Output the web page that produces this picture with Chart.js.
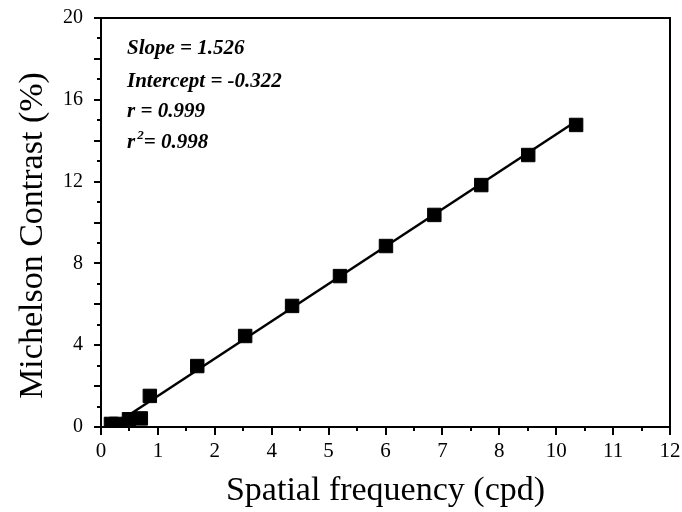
<!DOCTYPE html>
<html>
<head>
<meta charset="utf-8">
<script src="https://cdn.jsdelivr.net/npm/chart.js@4/dist/chart.umd.min.js"></script>
<style>
  html, body { margin: 0; padding: 0; background: #fff; }
  #wrap { width: 682px; height: 512px; }
</style>
</head>
<body>
<div id="wrap"><canvas id="chart" width="682" height="512"></canvas></div>
<script>
// measured points (spatial frequency in cpd, Michelson contrast in %)
const freqX = [0.21, 0.32, 0.59, 0.84, 1.03, 2.03, 3.04, 4.03, 5.04, 6.01, 7.03, 8.02, 9.01, 10.02];
const contrastY = [0.15, 0.15, 0.38, 0.42, 1.52, 2.98, 4.45, 5.92, 7.38, 8.85, 10.37, 11.83, 13.30, 14.77];

// regression line end points as drawn
const fitX = [0.5, 10.02];
const fitY = [0.45, 14.95];

const statLines = ['Slope = 1.526', 'Intercept = -0.322', 'r = 0.999', 'r^2= 0.998'];
const yTitle = 'Michelson Contrast (%)';

const serif = '"Liberation Serif", "Times New Roman", serif';

const toPoints = (xs, ys) => xs.map((x, i) => ({ x: x, y: ys[i] }));

// tick marks outside the frame, long on major, short on minor, plus top/right frame
const frameTicks = {
    id: 'frameTicks',
    afterDraw(chart) {
        const ctx = chart.ctx;
        const area = chart.chartArea;
        const xs = chart.scales.x;
        const ys = chart.scales.y;
        ctx.save();
        ctx.strokeStyle = '#000';
        ctx.lineWidth = 2;
        ctx.beginPath();
        ctx.moveTo(area.left - 1, area.top);
        ctx.lineTo(area.right, area.top);
        ctx.lineTo(area.right, area.bottom);
        ctx.stroke();

        ys.ticks.forEach((t, i) => {
            const py = Math.round(ys.getPixelForTick(i));
            const len = Math.round(t.value) % 2 === 0 ? 7 : 4;
            ctx.beginPath();
            ctx.moveTo(area.left, py);
            ctx.lineTo(area.left - len, py);
            ctx.stroke();
        });
        xs.ticks.forEach((t, i) => {
            const px = Math.round(xs.getPixelForTick(i));
            const len = i % 2 === 0 ? 8 : 4;
            ctx.beginPath();
            ctx.moveTo(px, area.bottom);
            ctx.lineTo(px, area.bottom + len);
            ctx.stroke();
        });

        // y axis title, sits a little below the plot centre in the original
        ctx.save();
        ctx.translate(33, (area.top + area.bottom) / 2 + 13);
        ctx.rotate(-Math.PI / 2);
        ctx.textAlign = 'center';
        ctx.textBaseline = 'middle';
        ctx.fillStyle = '#000';
        ctx.font = '34px ' + serif;
        ctx.fillText(yTitle, 0, 0);
        ctx.restore();

        // fit statistics
        ctx.fillStyle = '#000';
        ctx.textBaseline = 'alphabetic';
        ctx.textAlign = 'left';
        const font = 'italic bold 21px ' + serif;
        const x0 = area.left + 26;
        const baselines = [36, 69, 99, 130];
        statLines.forEach((line, i) => {
            const y = area.top + baselines[i];
            ctx.font = font;
            if (line.startsWith('r^2')) {
                ctx.fillText('r', x0, y);
                let w = ctx.measureText('r').width + 2;
                ctx.font = 'italic bold 13px ' + serif;
                ctx.fillText('2', x0 + w, y - 9);
                w += ctx.measureText('2').width;
                ctx.font = font;
                ctx.fillText(line.slice(3), x0 + w, y);
            } else {
                ctx.fillText(line, x0, y);
            }
        });
        ctx.restore();
    }
};

new Chart(document.getElementById('chart'), {
    type: 'scatter',
    data: {
        datasets: [
            {
                label: 'Data',
                data: toPoints(freqX, contrastY),
                pointStyle: 'rect',
                pointRadius: 9.5,
                pointHoverRadius: 9.5,
                pointBackgroundColor: '#000',
                pointBorderColor: '#000',
                pointBorderWidth: 1,
                showLine: false
            },
            {
                label: 'Fit',
                data: toPoints(fitX, fitY),
                showLine: true,
                borderColor: '#000',
                borderWidth: 2.5,
                pointRadius: 0,
                fill: false
            }
        ]
    },
    options: {
        responsive: false,
        animation: false,
        events: [],
        layout: { padding: { left: 0, top: 18, right: 12, bottom: 0 } },
        plugins: {
            legend: { display: false },
            tooltip: { enabled: false }
        },
        scales: {
            x: {
                type: 'linear',
                min: 0,
                max: 12,
                afterFit: scale => {
                    scale.height = 85;
                    scale.paddingLeft = 0;
                    scale.paddingRight = 0;
                },
                border: { display: true, color: '#000', width: 2 },
                grid: { display: false, drawTicks: false },
                ticks: {
                    stepSize: 0.6,
                    autoSkip: false,
                    maxRotation: 0,
                    padding: 12,
                    color: '#000',
                    font: { family: serif, size: 21 },
                    callback: (value, index) => index % 2 === 0 ? String(Math.round(value)) : ''
                },
                title: {
                    display: true,
                    text: 'Spatial frequency (cpd)',
                    color: '#000',
                    font: { family: serif, size: 34 },
                    padding: { top: 0, bottom: 1 }
                }
            },
            y: {
                type: 'linear',
                min: 0,
                max: 20,
                afterFit: scale => {
                    scale.width = 101;
                    scale.paddingTop = 0;
                    scale.paddingBottom = 0;
                },
                border: { display: true, color: '#000', width: 2 },
                grid: { display: false, drawTicks: false },
                ticks: {
                    stepSize: 1,
                    autoSkip: false,
                    padding: 18,
                    color: '#000',
                    font: { family: serif, size: 20 },
                    callback: value => value % 4 === 0 ? String(value) : ''
                },
                title: { display: false }
            }
        }
    },
    plugins: [frameTicks]
});
</script>
</body>
</html>
